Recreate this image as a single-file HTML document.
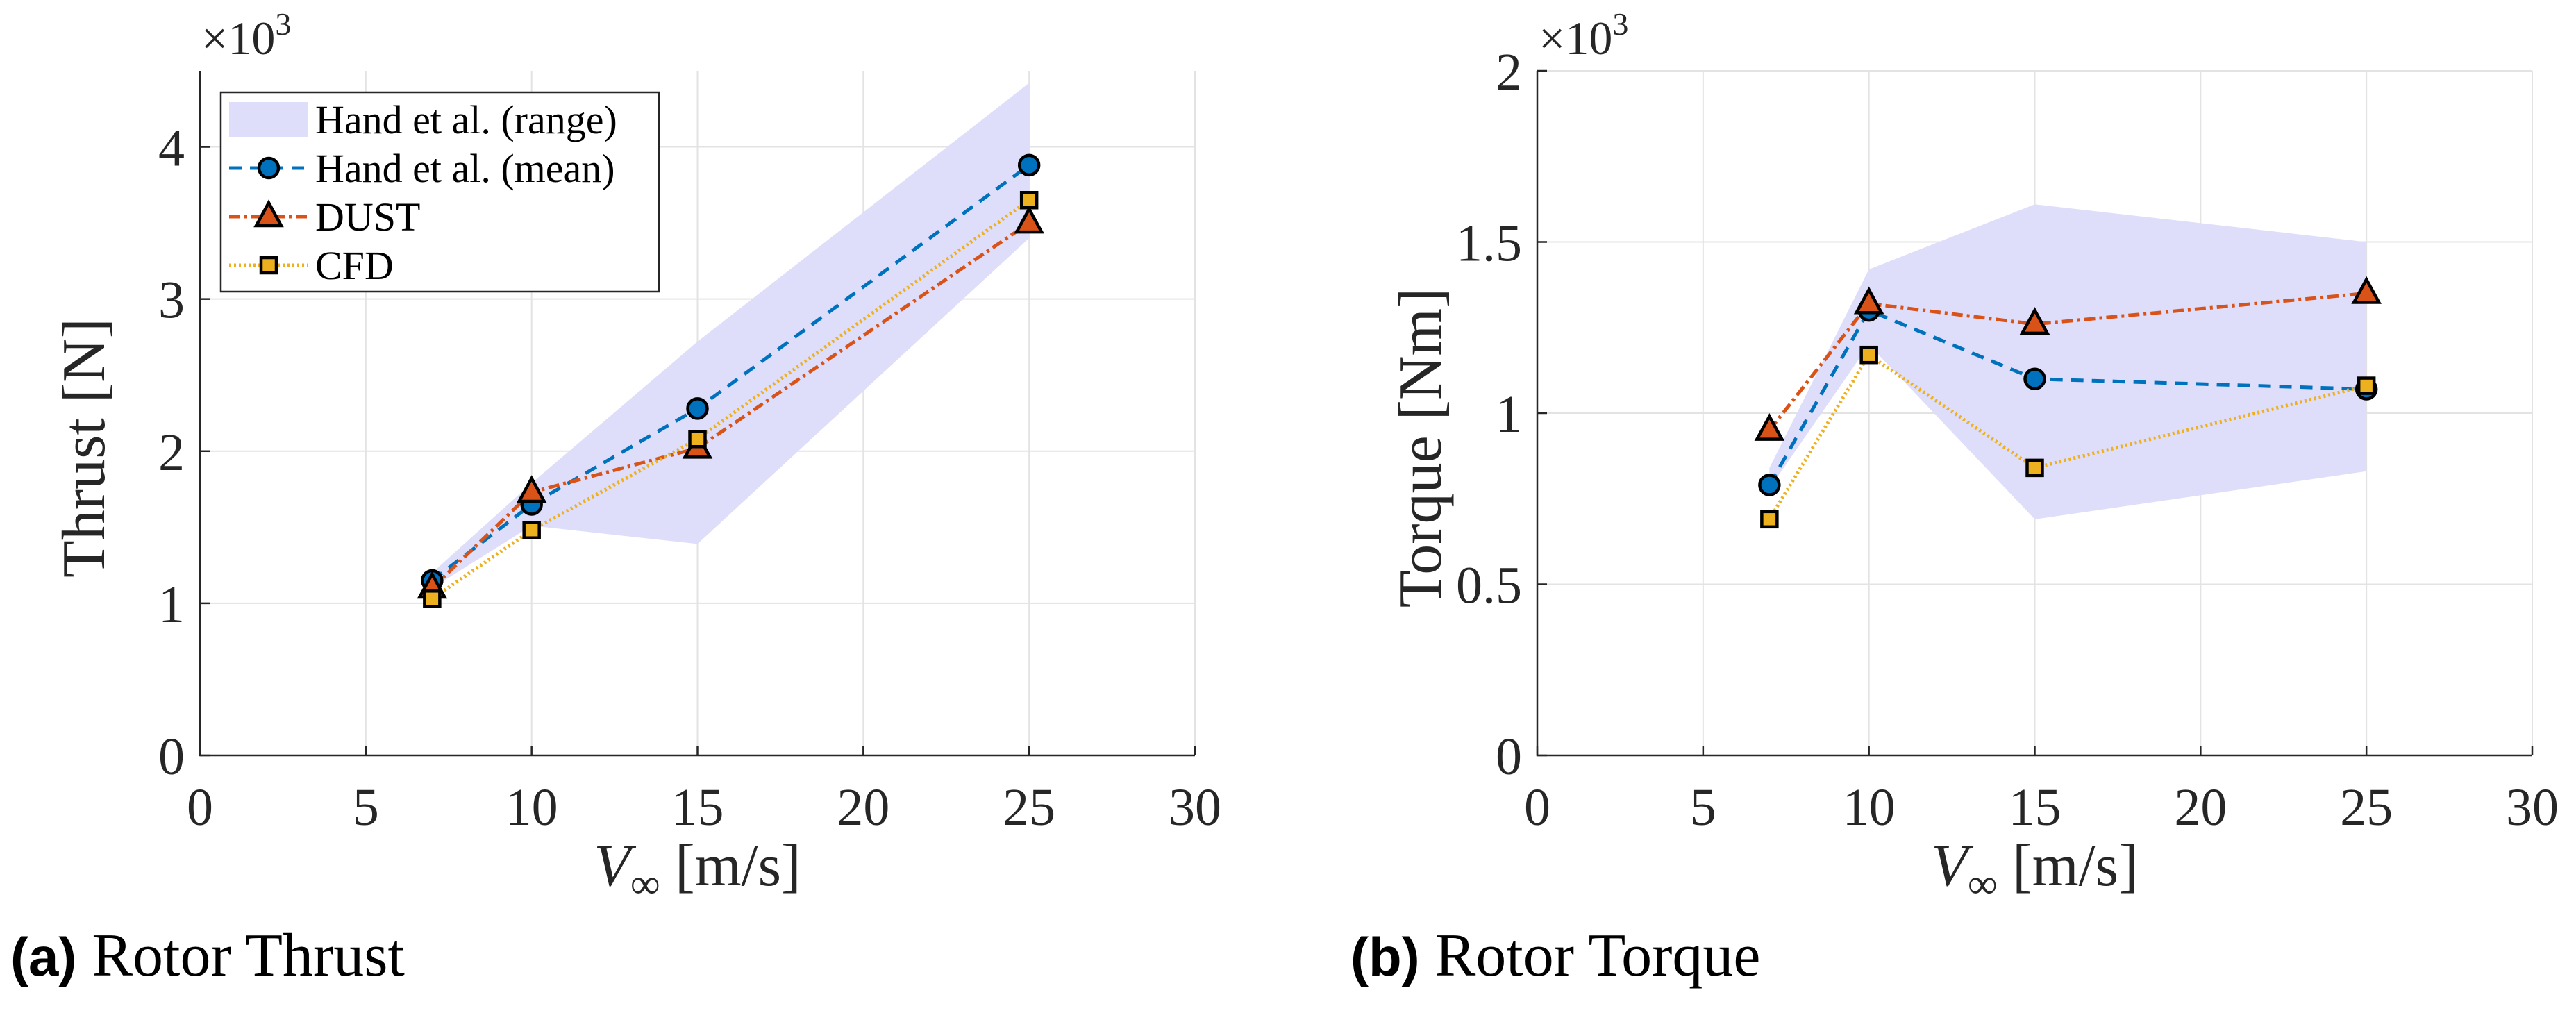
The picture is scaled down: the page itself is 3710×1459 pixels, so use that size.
<!DOCTYPE html>
<html><head><meta charset="utf-8"><style>
html,body{margin:0;padding:0;background:#fff;}
svg{display:block;}
svg text{font-family:"Liberation Serif",serif;}
</style></head><body>
<svg id="fig" width="3710" height="1459" viewBox="0 0 3710 1459" xmlns="http://www.w3.org/2000/svg">
<text x="15" y="1405" font-size="88"><tspan font-weight="bold" style="font-family:'Liberation Sans',sans-serif" font-size="78">(a)</tspan> Rotor Thrust</text>
<text x="1945" y="1405" font-size="88"><tspan font-weight="bold" style="font-family:'Liberation Sans',sans-serif" font-size="78">(b)</tspan> Rotor Torque</text>
</svg>
<script>
const windSpeeds = [7, 10, 15, 25];
const thrustMean = [1.15, 1.65, 2.28, 3.88];
const thrustDust = [1.10, 1.73, 2.02, 3.50];
const thrustCfd = [1.03, 1.48, 2.08, 3.65];
const thrustRangeHi = [1.20, 1.79, 2.72, 4.42];
const thrustRangeLo = [1.10, 1.51, 1.39, 3.40];
const torqueMean = [0.79, 1.30, 1.10, 1.07];
const torqueDust = [0.95, 1.32, 1.26, 1.35];
const torqueCfd = [0.69, 1.17, 0.84, 1.08];
const torqueRangeHi = [0.84, 1.42, 1.61, 1.50];
const torqueRangeLo = [0.78, 1.20, 0.69, 0.83];
const xTicks = [0, 5, 10, 15, 20, 25, 30];
const thrustTicks = [0, 1, 2, 3, 4];
const torqueTicks = [0, 0.5, 1, 1.5, 2];

const NS = "http://www.w3.org/2000/svg";
const svg = document.getElementById('fig');
function mk(tag, attrs, parent) {
  const e = document.createElementNS(NS, tag);
  for (const k in attrs) e.setAttribute(k, attrs[k]);
  (parent || svg).appendChild(e);
  return e;
}
const C = {blue: '#0072BD', orange: '#D95319', yellow: '#EDB120', shade: '#dedefa'};

function panel(p) {
  const g = mk('g', {});
  
  
  const X = v => p.x0 + (v - 0) / 30 * (p.x1 - p.x0);
  const Y = v => p.y0 - v / p.ymax * (p.y0 - p.y1);
  xTicks.forEach(t => {
    const l = mk('line', {x1: X(t), x2: X(t), y1: p.y1, y2: p.y0, stroke: '#e3e3e3', 'stroke-width': 2}, g);
    
    
  });
  p.yTicks.forEach(t => {
    const l = mk('line', {x1: p.x0, x2: p.x1, y1: Y(t), y2: Y(t), stroke: '#e3e3e3', 'stroke-width': 2}, g);
    
    
  });
  let pts = windSpeeds.map((w, i) => X(w) + ',' + Y(p.hi[i]));
  pts = pts.concat(windSpeeds.map((w, i) => X(w) + ',' + Y(p.lo[i])).reverse());
  const poly = mk('polygon', {points: pts.join(' '), fill: C.shade}, g);
  
  
  const ax = mk('path', {d: `M${p.x0},${p.y1} L${p.x0},${p.y0} L${p.x1},${p.y0}`, fill: 'none', stroke: '#262626', 'stroke-width': 2.5}, g);
  
  
  xTicks.forEach(t => {
    mk('line', {x1: X(t), x2: X(t), y1: p.y0, y2: p.y0 - 14, stroke: '#262626', 'stroke-width': 2.5}, g);
    const tx = mk('text', {x: X(t), y: p.y0 + 100, 'font-size': 76, 'text-anchor': 'middle', fill: '#262626'}, g);
    tx.textContent = t;
    
    
  });
  p.yTicks.forEach(t => {
    mk('line', {x1: p.x0, x2: p.x0 + 14, y1: Y(t), y2: Y(t), stroke: '#262626', 'stroke-width': 2.5}, g);
    const tx = mk('text', {x: p.x0 - 22, y: Y(t) + 27, 'font-size': 76, 'text-anchor': 'end', fill: '#262626'}, g);
    tx.textContent = t;
    
    
  });
  const ex = mk('text', {x: p.x0 + 2, y: 78, 'font-size': 68, fill: '#262626'}, g);
  ex.innerHTML = '×10<tspan dy="-28" font-size="46">3</tspan>';
  
  
  const xl = mk('text', {x: (p.x0 + p.x1) / 2, y: 1275, 'font-size': 86, 'text-anchor': 'middle', fill: '#262626'}, g);
  xl.innerHTML = '<tspan font-style="italic">V</tspan><tspan dy="18" font-size="60">∞</tspan><tspan dy="-18"> [m/s]</tspan>';
  
  
  const yl = mk('text', {x: 0, y: 0, 'font-size': 88, 'text-anchor': 'middle', fill: '#262626', transform: `translate(${p.ylabX},${(p.y0 + p.y1) / 2 + 50}) rotate(-90)`}, g);
  yl.textContent = p.ylab;
  
  
  const series = [
    {vals: p.mean, color: C.blue, dash: '18,12', marker: 'circle', name: 'series-hand-mean'},
    {vals: p.dust, color: C.orange, dash: '16,6,4,6', marker: 'tri', name: 'series-dust'},
    {vals: p.cfd, color: C.yellow, dash: '3,4', marker: 'sq', name: 'series-cfd'}
  ];
  series.forEach(s => {
    const sg = mk('g', {}, g);
    
    
    const line = mk('polyline', {points: windSpeeds.map((w, i) => X(w) + ',' + Y(s.vals[i])).join(' '), fill: 'none', stroke: s.color, 'stroke-width': 5, 'stroke-dasharray': s.dash}, sg);
    
    
  });
  series.forEach(s => {
    windSpeeds.forEach((w, i) => {
      const m = marker(s.marker, X(w), Y(s.vals[i]), s.color, g);
      
      
    });
  });
}
function marker(type, x, y, color, parent) {
  if (type === 'circle') return mk('circle', {cx: x, cy: y, r: 14, fill: color, stroke: '#000', 'stroke-width': 4.5}, parent);
  if (type === 'tri') return mk('polygon', {points: `${x},${y - 20} ${x + 18},${y + 13} ${x - 18},${y + 13}`, fill: color, stroke: '#000', 'stroke-width': 4.5}, parent);
  return mk('rect', {x: x - 11, y: y - 11, width: 22, height: 22, fill: color, stroke: '#000', 'stroke-width': 4.5}, parent);
}

panel({name: 'thrust-chart', x0: 288, x1: 1721, y0: 1088, y1: 102, ymax: 4.5, yTicks: thrustTicks,
  mean: thrustMean, dust: thrustDust, cfd: thrustCfd, hi: thrustRangeHi, lo: thrustRangeLo, ylab: 'Thrust [N]', ylabX: 150});
panel({name: 'torque-chart', x0: 2214, x1: 3647, y0: 1088, y1: 102, ymax: 2, yTicks: torqueTicks,
  mean: torqueMean, dust: torqueDust, cfd: torqueCfd, hi: torqueRangeHi, lo: torqueRangeLo, ylab: 'Torque [Nm]', ylabX: 2075});

const lg = mk('g', {});


mk('rect', {x: 318, y: 133, width: 631, height: 287, fill: '#fff', stroke: '#262626', 'stroke-width': 2.5}, lg);
const entries = [
  {label: 'Hand et al. (range)', kind: 'shade'},
  {label: 'Hand et al. (mean)', kind: 'circle', color: C.blue, dash: '18,12'},
  {label: 'DUST', kind: 'tri', color: C.orange, dash: '16,6,4,6'},
  {label: 'CFD', kind: 'sq', color: C.yellow, dash: '3,4'}
];
entries.forEach((e, i) => {
  const cy = 172 + i * 70;
  const eg = mk('g', {}, lg);
  
  
  if (e.kind === 'shade') mk('rect', {x: 330, y: cy - 25, width: 113, height: 50, fill: C.shade}, eg);
  else {
    mk('line', {x1: 330, x2: 443, y1: cy, y2: cy, stroke: e.color, 'stroke-width': 5, 'stroke-dasharray': e.dash}, eg);
    marker(e.kind, 387, cy, e.color, eg);
  }
  const t = mk('text', {x: 454, y: cy + 20, 'font-size': 58, fill: '#000'}, eg);
  t.textContent = e.label;
});
</script>
</body></html>
